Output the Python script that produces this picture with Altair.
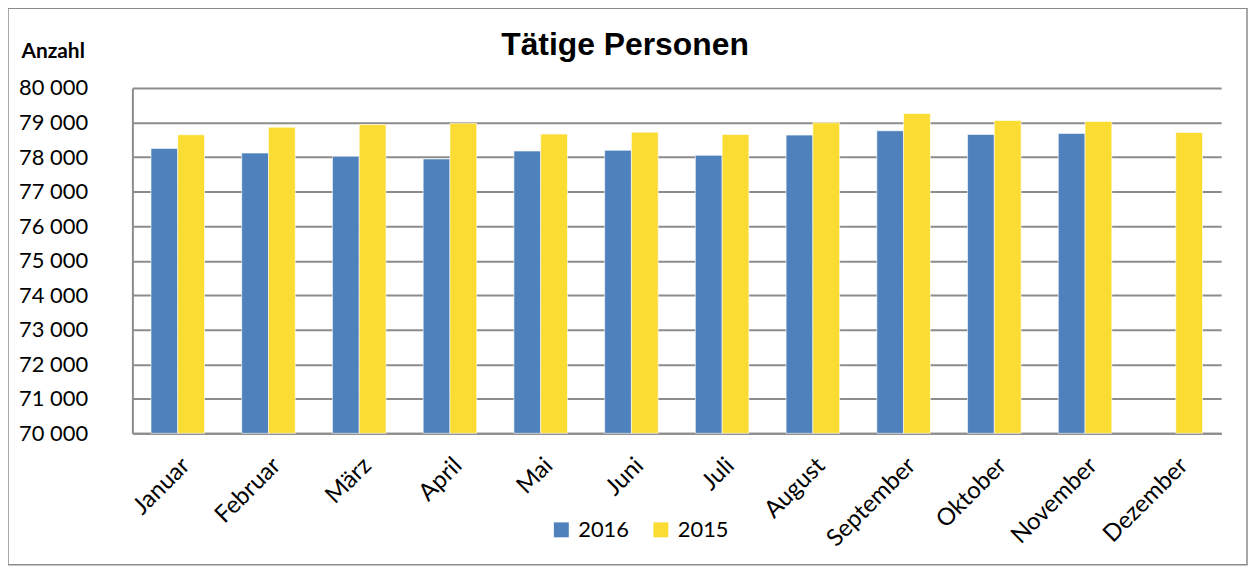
import altair as alt
import pandas as pd

months = ["Januar", "Februar", "März", "April", "Mai", "Juni", "Juli",
          "August", "September", "Oktober", "November", "Dezember"]
values_2016 = [78250, 78115, 78020, 77945, 78175, 78195, 78050,
               78635, 78760, 78655, 78685, None]
values_2015 = [78645, 78865, 78940, 78980, 78665, 78720, 78655,
               78995, 79260, 79060, 79030, 78710]
series = ["2016", "2015"]
colors = ["#4F81BD", "#FADC32"]

rows = []
for m, a, b in zip(months, values_2016, values_2015):
    if a is not None:
        rows.append({"Monat": m, "Jahr": "2016", "Anzahl": a})
    rows.append({"Monat": m, "Jahr": "2015", "Anzahl": b})
df = pd.DataFrame(rows)

FONT = "Lato"

bars = alt.Chart(df).mark_bar(stroke="white", strokeWidth=0.6).encode(
    x=alt.X("Monat:N", sort=months, title=None,
            scale=alt.Scale(paddingInner=0.41, paddingOuter=0.205),
            axis=alt.Axis(labelAngle=-45, labelAlign="right", labelBaseline="top",
                          labelPadding=20, ticks=False, labelFont=FONT,
                          labelFontSize=24, labelColor="black",
                          domainColor="#8c8c8c", domainWidth=2)),
    xOffset=alt.XOffset("Jahr:N", sort=series),
    y=alt.Y("Anzahl:Q",
            scale=alt.Scale(domain=[70000, 80000], zero=False, nice=False),
            axis=alt.Axis(values=list(range(70000, 80001, 1000)),
                          labelExpr="replace(format(datum.value, ','), ',', ' ')",
                          title="Anzahl", titleAngle=0, titleAlign="left",
                          titleBaseline="middle", titleX=-112, titleY=-37,
                          titleFont=FONT, titleFontSize=21, titleFontWeight="bold",
                          titleColor="black",
                          labelFont=FONT, labelFontSize=22, labelColor="black",
                          labelPadding=45, ticks=False,
                          grid=True, gridColor="#8c8c8c", gridWidth=2,
                          domainColor="#8c8c8c", domainWidth=2)),
    y2=alt.datum(70000),
    color=alt.Color("Jahr:N", sort=series,
                    scale=alt.Scale(domain=series, range=colors),
                    legend=alt.Legend(orient="none", direction="horizontal",
                                      legendX=420, legendY=433, title=None,
                                      symbolType="square", symbolSize=225,
                                      symbolStrokeWidth=0,
                                      labelFont=FONT, labelFontSize=22,
                                      labelColor="black", labelOffset=6,
                                      columnPadding=20)),
)

frame = alt.Chart(pd.DataFrame({"a": [0]})).mark_rect(
    fill=None, stroke="#8c8c8c", strokeWidth=1.5
).encode(
    x=alt.value(-125), x2=alt.value(1120),
    y=alt.value(-80), y2=alt.value(479),
)

chart = alt.layer(frame, bars).properties(
    width=1094, height=347,
    title=alt.Title("Tätige Personen", fontSize=32, fontWeight="bold",
                    font="Liberation Sans", color="black",
                    anchor="middle", dx=-52, offset=-55),
    autosize=alt.AutoSizeParams(type="none"),
    padding={"left": 125, "top": 79, "right": 30, "bottom": 140},
).configure_view(stroke=None)

chart.save("out.html", embed_options={"renderer": "svg", "actions": False})
